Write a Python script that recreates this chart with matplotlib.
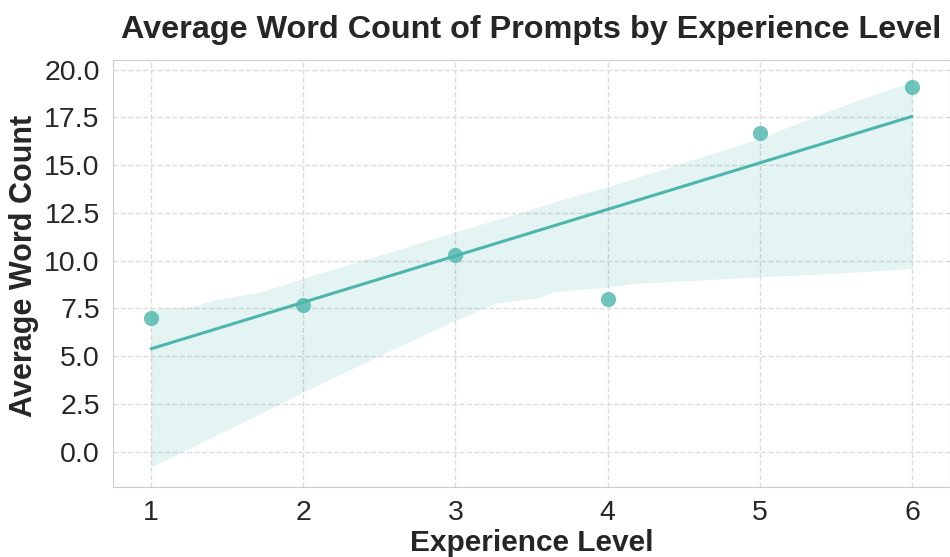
import numpy as np
import matplotlib
matplotlib.use("Agg")
import matplotlib.pyplot as plt
import seaborn as sns

# data
experience_level = [1, 2, 3, 4, 5, 6]
avg_word_count = [7.0, 7.7, 10.3, 8.0, 16.7, 19.1]

# confidence band (bootstrap CI as drawn in the reference)
band_x = [1.0, 1.26, 1.43, 1.72, 2.0, 2.39, 2.53, 3.0, 3.27, 3.42, 3.56, 3.64, 3.9, 4.0, 4.17, 5.0, 5.53, 6.0]
band_upper = [7.45, 7.58, 7.96, 8.36, 9.07, 10.03, 10.35, 11.51, 12.15, 12.5, 12.85, 13.05, 13.65, 13.87, 14.3, 16.41, 18.07, 19.39]
band_lower = [-0.82, 0.2, 0.87, 2.0, 3.11, 4.6, 5.13, 6.88, 7.79, 7.93, 8.07, 8.36, 8.54, 8.6, 8.8, 9.15, 9.35, 9.59]

teal = "#4DB6AC"

sns.set_style("whitegrid", {"grid.linestyle": "--", "grid.color": "#dcdcdc", "axes.edgecolor": "#cccccc"})
plt.rcParams["font.family"] = ["Liberation Sans", "DejaVu Sans"]

fig = plt.figure(figsize=(9.5, 5.57), dpi=100)
ax = fig.add_axes([0.119, 0.126, 0.881, 0.766])

slope, intercept = np.polyfit(experience_level, avg_word_count, 1)
xs = np.linspace(min(experience_level), max(experience_level), 100)

ax.fill_between(band_x, band_lower, band_upper, color=teal, alpha=0.15, linewidth=0)
ax.plot(xs, slope * xs + intercept, color=teal, linewidth=2.2)
ax.scatter(experience_level, avg_word_count, color=teal, alpha=0.8, s=120, linewidths=0, zorder=3)

ax.set_xlim(0.75, 6.25)
ax.set_ylim(-1.85, 20.5)
ax.set_yticks(np.arange(0, 20.1, 2.5))
ax.set_xticks(experience_level)
ax.tick_params(labelsize=20.5, colors="#262626", pad=6)
ax.grid(True, linestyle="--", color="#dcdcdc", linewidth=1)

ax.set_title("Average Word Count of Prompts by Experience Level", fontsize=23.3, fontweight="bold", pad=16, color="#262626")
ax.set_xlabel("Experience Level", fontsize=21.5, fontweight="bold", color="#262626", labelpad=2)
ax.set_ylabel("Average Word Count", fontsize=22, fontweight="bold", color="#262626")
ax.yaxis.set_label_coords(-0.088, 0.518)

fig.savefig("out.png", dpi=100)
